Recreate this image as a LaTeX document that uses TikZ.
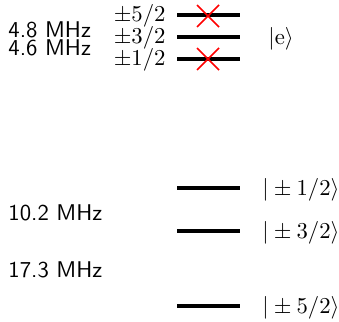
\documentclass[tikz,border=0pt]{standalone}
\usetikzlibrary{positioning}

\begin{document}
\begin{tikzpicture}[x=0.44pt, y=-0.44pt,
        level/.style={line width=1.6pt},
        blocked/.style={draw=red, line width=0.7pt},
        freq/.style={font=\sffamily, anchor=west, inner sep=0pt},
        spin/.style={anchor=east, inner sep=0pt},
        ket/.style={anchor=west, inner sep=0pt}
      ]
      \useasboundingbox (0,0) rectangle (339,321);

      % excited state
      \draw[level] (177,15) coordinate (e5l) -- (240,15) coordinate (e5r);
      \draw[level] (177,37) coordinate (e3l) -- (240,37) coordinate (e3r);
      \draw[level] (177,59) coordinate (e1l) -- (240,59) coordinate (e1r);
      \node[spin] (s5) at (166,16) {$\pm5/2$};
      \node[spin] (s3) at (166,38) {$\pm3/2$};
      \node[spin] (s1) at (166,60) {$\pm1/2$};
      \node[ket] (ke) at (268,39) {$|\mathrm{e}\rangle$};
      \node[freq] (f48) at (8,30) {4.8 MHz};
      \node[freq] (f46) at (8,48) {4.6 MHz};

      \draw[blocked] (197,5) -- (219,27) (197,27) -- (219,5);
      \draw[blocked] (197,48) -- (219,70) (197,70) -- (219,48);

      % ground state
      \draw[level] (177,188) coordinate (g1l) -- (240,188) coordinate (g1r);
      \draw[level] (177,231) coordinate (g3l) -- (240,231) coordinate (g3r);
      \draw[level] (177,306) coordinate (g5l) -- (240,306) coordinate (g5r);
      \node[ket] (k1) at (262,190) {$|\pm1/2\rangle$};
      \node[ket] (k3) at (262,233) {$|\pm3/2\rangle$};
      \node[ket] (k5) at (262,308) {$|\pm5/2\rangle$};
      \node[freq] (f102) at (8,213) {10.2 MHz};
      \node[freq] (f173) at (8,270) {17.3 MHz};
    \end{tikzpicture}
\end{document}
